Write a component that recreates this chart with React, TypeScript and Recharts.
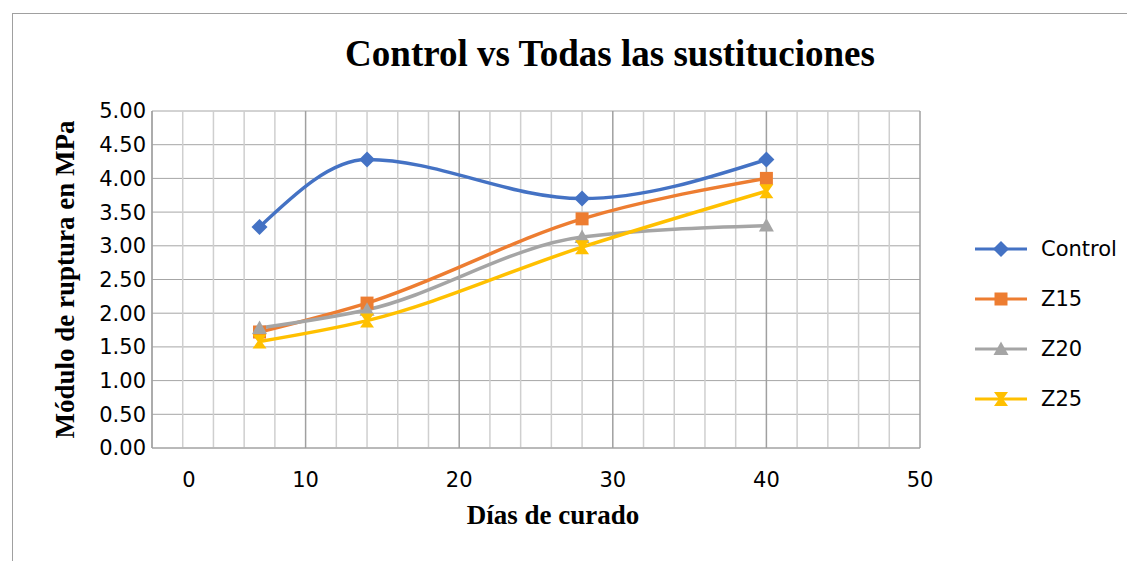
import React from "react";
import {
  LineChart,
  Line,
  XAxis,
  YAxis,
  CartesianGrid,
  ReferenceLine,
  Label,
} from "recharts";

// curing days and rupture modulus (MPa) per mix
const days = [7, 14, 28, 40];
const control = [3.28, 4.28, 3.7, 4.28];
const z15 = [1.72, 2.15, 3.4, 4.0];
const z20 = [1.78, 2.05, 3.13, 3.3];
const z25 = [1.58, 1.89, 2.98, 3.81];

const xTicks = [0, 10, 20, 30, 40, 50];
const xMinorTicks = [2, 4, 6, 8, 12, 14, 16, 18, 22, 24, 26, 28, 32, 34, 36, 38, 42, 44, 46, 48];
const yTicks = [0, 0.5, 1, 1.5, 2, 2.5, 3, 3.5, 4, 4.5, 5];

const data = days.map((d, i) => ({
  day: d,
  Control: control[i],
  Z15: z15[i],
  Z20: z20[i],
  Z25: z25[i],
}));

const series = [
  { key: "Control", color: "#4472C4", shape: "diamond" },
  { key: "Z15", color: "#ED7D31", shape: "square" },
  { key: "Z20", color: "#A5A5A5", shape: "triangle" },
  { key: "Z25", color: "#FFC000", shape: "hourglass" },
];

const sans = "'DejaVu Sans', sans-serif";
const serif = "'Liberation Serif', 'Times New Roman', serif";

function markerPath(shape: string, cx: number, cy: number) {
  switch (shape) {
    case "diamond":
      return `M${cx},${cy - 8} L${cx + 8},${cy} L${cx},${cy + 8} L${cx - 8},${cy} Z`;
    case "square":
      return `M${cx - 6.5},${cy - 6.5} h13 v13 h-13 Z`;
    case "triangle":
      return `M${cx},${cy - 7.5} L${cx + 7.5},${cy + 6} L${cx - 7.5},${cy + 6} Z`;
    default:
      return `M${cx - 7},${cy - 7} L${cx + 7},${cy - 7} L${cx + 2},${cy} L${cx + 7},${cy + 7} L${cx - 7},${cy + 7} L${cx - 2},${cy} Z`;
  }
}

const makeDot = (shape: string, color: string) => (props: any) => {
  const { cx, cy, key } = props;
  if (cx == null || cy == null) return <g key={key} />;
  return <path key={key} d={markerPath(shape, cx, cy)} fill={color} stroke="none" />;
};

const XTick = (props: any) => {
  const { x, y, payload } = props;
  const shift = payload.value === 0 ? 37 : 0;
  return (
    <text
      x={x + shift}
      y={y}
      dy="0.71em"
      textAnchor="middle"
      fill="#000"
      fontSize={21}
      fontFamily={sans}
    >
      {payload.value}
    </text>
  );
};

const ChartLegend = () => (
  <div
    style={{
      position: "absolute",
      left: 975,
      top: 224,
      fontFamily: sans,
      fontSize: 21,
      color: "#000",
    }}
  >
    {series.map((s) => (
      <div key={s.key} style={{ display: "flex", alignItems: "center", height: 50 }}>
        <svg width={52} height={20} style={{ marginRight: 14 }}>
          <line x1={0} y1={10} x2={52} y2={10} stroke={s.color} strokeWidth={3} />
          <path d={markerPath(s.shape, 26, 10)} fill={s.color} />
        </svg>
        <span>{s.key}</span>
      </div>
    ))}
  </div>
);

export default function App() {
  return (
    <div
      style={{
        position: "absolute",
        left: 0,
        top: 0,
        width: 1127,
        height: 561,
        overflow: "hidden",
        background: "#fff",
      }}
    >
      <div
        style={{
          position: "absolute",
          left: 12,
          top: 13,
          width: 1200,
          height: 600,
          borderLeft: "1px solid #a0a0a0",
          borderTop: "1px solid #a0a0a0",
        }}
      />
      <div
        style={{
          position: "absolute",
          left: 0,
          top: 32,
          width: 1220,
          textAlign: "center",
          fontFamily: serif,
          fontWeight: "bold",
          fontSize: 37,
          color: "#000",
        }}
      >
        Control vs Todas las sustituciones
      </div>
      <div style={{ position: "absolute", left: 0, top: 0 }}>
        <LineChart
          width={1127}
          height={561}
          data={data}
          margin={{ top: 111, right: 207, bottom: 23, left: 22 }}
        >
          <CartesianGrid horizontal vertical={false} stroke="#a6a6a6" strokeWidth={1} />
          {xMinorTicks.map((v) => (
            <ReferenceLine key={"m" + v} x={v} stroke="#cfcfcf" strokeWidth={1.5} />
          ))}
          {xTicks.map((v) => (
            <ReferenceLine key={"M" + v} x={v} stroke="#a0a0a0" strokeWidth={1.5} />
          ))}
          <XAxis
            dataKey="day"
            type="number"
            domain={[0, 50]}
            ticks={xTicks}
            interval={0}
            height={90}
            axisLine={{ stroke: "#a0a0a0" }}
            tickLine={false}
            tickSize={0}
            tickMargin={24}
            tick={<XTick />}
          >
            <Label
              value="Días de curado"
              position="insideBottom"
              offset={14}
              dx={17}
              fill="#000"
              fontSize={27}
              fontWeight="bold"
              fontFamily={serif}
            />
          </XAxis>
          <YAxis
            type="number"
            domain={[0, 5]}
            ticks={yTicks}
            interval={0}
            width={130}
            axisLine={{ stroke: "#a0a0a0" }}
            tickLine={false}
            tickSize={0}
            tickMargin={6}
            tickFormatter={(v: number) => v.toFixed(2)}
            tick={{ fill: "#000", fontSize: 21, fontFamily: sans }}
          >
            <Label
              content={(props: any) => {
                const vb = props.viewBox;
                const x = vb.x + 43;
                const y = vb.y + vb.height / 2;
                return (
                  <text
                    x={x}
                    y={y}
                    transform={`rotate(-90, ${x}, ${y})`}
                    textAnchor="middle"
                    dominantBaseline="central"
                    fill="#000"
                    fontSize={27}
                    fontWeight="bold"
                    fontFamily={serif}
                  >
                    Módulo de ruptura en MPa
                  </text>
                );
              }}
            />
          </YAxis>
          {series.map((s) => (
            <Line
              key={s.key}
              type="monotone"
              dataKey={s.key}
              stroke={s.color}
              strokeWidth={3.5}
              dot={makeDot(s.shape, s.color)}
              activeDot={false}
              isAnimationActive={false}
            />
          ))}
        </LineChart>
      </div>
      <ChartLegend />
    </div>
  );
}
